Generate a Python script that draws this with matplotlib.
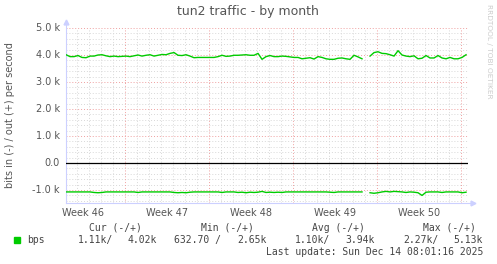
import numpy as np
import pandas as pd
import matplotlib
matplotlib.use("Agg")
import matplotlib.pyplot as plt

# samples every 8 hours, values in k bits/s
times = pd.date_range("2025-11-11 01:30", periods=101, freq="8h")
out_k = [4.01, 3.94, 3.94, 3.98, 3.91, 3.90, 3.96, 3.96, 4.00, 4.01,
         3.97, 3.94, 3.96, 3.94, 3.95, 3.96, 3.94, 3.97, 4.00, 3.96,
         3.99, 4.01, 3.96, 3.99, 4.02, 4.01, 4.06, 4.09, 3.99, 3.98,
         4.01, 3.96, 3.90, 3.91, 3.91, 3.91, 3.91, 3.91, 3.94, 3.99,
         3.95, 3.96, 3.99, 3.99, 4.00, 4.01, 3.99, 3.99, 4.06, 3.84,
         3.94, 3.98, 3.94, 3.94, 3.96, 3.95, 3.93, 3.91, 3.91, 3.86,
         3.88, 3.90, 3.85, 3.94, 3.91, 3.86, 3.84, 3.84, 3.88, 3.89,
         3.86, 3.84, 3.99, 3.93, 3.86, np.nan, 3.96, 4.09, 4.12, 4.06,
         4.05, 4.01, 3.96, 4.16, 4.00, 3.96, 3.94, 3.97, 3.86, 3.88,
         3.98, 3.89, 3.89, 3.98, 3.89, 3.86, 3.91, 3.86, 3.86, 3.91,
         4.01]
in_k = [-1.07, -1.07, -1.07, -1.07, -1.07, -1.07, -1.07, -1.09, -1.10, -1.09,
        -1.07, -1.07, -1.07, -1.07, -1.07, -1.07, -1.07, -1.07, -1.09, -1.07,
        -1.07, -1.07, -1.07, -1.07, -1.07, -1.07, -1.07, -1.09, -1.10, -1.09,
        -1.10, -1.08, -1.07, -1.07, -1.07, -1.07, -1.07, -1.07, -1.07, -1.09,
        -1.07, -1.07, -1.07, -1.09, -1.08, -1.10, -1.08, -1.09, -1.08, -1.05,
        -1.09, -1.08, -1.09, -1.08, -1.09, -1.07, -1.07, -1.07, -1.07, -1.07,
        -1.07, -1.07, -1.07, -1.07, -1.07, -1.07, -1.08, -1.09, -1.07, -1.07,
        -1.07, -1.07, -1.07, -1.07, -1.07, np.nan, -1.10, -1.12, -1.10, -1.07,
        -1.05, -1.07, -1.05, -1.06, -1.07, -1.09, -1.07, -1.08, -1.10, -1.20,
        -1.08, -1.07, -1.07, -1.07, -1.09, -1.07, -1.07, -1.07, -1.07, -1.10,
        -1.08]

week_labels = ["Week 46", "Week 47", "Week 48", "Week 49", "Week 50"]
y_ticks = [-1000, 0, 1000, 2000, 3000, 4000, 5000]
y_labels = ["-1.0 k", "0.0", "1.0 k", "2.0 k", "3.0 k", "4.0 k", "5.0 k"]

legend_head = ["Cur (-/+)", "Min (-/+)", "Avg (-/+)", "Max (-/+)"]
legend_vals = ["1.11k/", "4.02k", "632.70 /", "2.65k", "1.10k/", "3.94k", "2.27k/", "5.13k"]
last_update = "Last update: Sun Dec 14 08:01:16 2025"

W, H = 497, 264
GREEN = "#00CC00"
TEXT = "#555555"
MINOR = "#D8D8D8"
MAJOR = "#EFA0A0"
AXIS = "#CCD0FF"


def px(x, y):
    return x / W, 1 - y / H


def main():
    ref = pd.Timestamp("2025-11-16")  # Sunday, week boundary
    days = (times - ref) / pd.Timedelta(days=1)
    out_bps = np.array(out_k) * 1000
    in_bps = np.array(in_k) * 1000

    fig = plt.figure(figsize=(W / 100, H / 100), dpi=100)
    fig.patch.set_facecolor("white")
    x0, x1, y0, y1 = 66, 468, 28, 203
    ax = fig.add_axes([x0 / W, 1 - y1 / H, (x1 - x0) / W, (y1 - y0) / H])
    ax.set_xlim(-4.94, 28.56)
    ax.set_ylim(-1480, 5000)
    for s in ax.spines.values():
        s.set_visible(False)
    ax.set_xticks([])
    ax.set_yticks([])

    # grid
    for v in range(-1400, 5001, 200):
        if v % 1000 == 0:
            continue
        ax.axhline(v, color=MINOR, lw=0.7, ls=(0, (1, 2)), zorder=1)
    for d in range(-4, 29):
        if d % 7 == 0:
            continue
        ax.axvline(d, color=MINOR, lw=0.7, ls=(0, (1, 2)), zorder=1)
    for v in y_ticks:
        if v != 0:
            ax.axhline(v, color=MAJOR, lw=0.7, ls=(0, (1, 2)), zorder=2)
    for d in range(0, 29, 7):
        ax.axvline(d, color=MAJOR, lw=0.7, ls=(0, (1, 2)), zorder=2)
    ax.axhline(0, color="black", lw=0.9, zorder=3)

    ax.plot(days, out_bps, color=GREEN, lw=1.0, zorder=4)
    ax.plot(days, in_bps, color=GREEN, lw=1.0, zorder=4)

    # axis lines with arrows
    ax.plot([0, 0], [0, 1.03], transform=ax.transAxes, color=AXIS, lw=0.8, clip_on=False)
    ax.plot([0], [1.035], transform=ax.transAxes, marker="^", color=AXIS, ms=3.5, clip_on=False)
    ax.plot([0, 1.01], [0, 0], transform=ax.transAxes, color=AXIS, lw=0.8, clip_on=False)
    ax.plot([1.012], [0], transform=ax.transAxes, marker=">", color=AXIS, ms=3.5, clip_on=False)

    for v, lab in zip(y_ticks, y_labels):
        ax.text(-0.015, v, lab, transform=ax.get_yaxis_transform(), ha="right", va="center",
                fontsize=7, color=TEXT)
    for i, lab in enumerate(week_labels):
        ax.text(-3.5 + 7 * i, -0.055, lab, transform=ax.get_xaxis_transform(), ha="center",
                va="center", fontsize=7, color=TEXT)

    fig.text(*px(248, 12), "tun2 traffic - by month", ha="center", va="center", fontsize=9, color=TEXT)
    fig.text(*px(10, 115), "bits in (-) / out (+) per second", rotation=90, ha="center", va="center",
             fontsize=7, color=TEXT)
    fig.text(*px(489, 4), "RRDTOOL / TOBI OETIKER", rotation=270, ha="center", va="top",
             fontsize=5.3, color="#CCCCCC")

    mono = "DejaVu Sans Mono"
    for x, t in zip([89, 201, 312, 423], legend_head):
        fig.text(*px(x, 228), t, ha="left", va="center", fontsize=7, family=mono, color="#444444")
    fig.patches.append(plt.Rectangle(px(14, 243), 6 / W, 6 / H, transform=fig.transFigure,
                                     color=GREEN, figure=fig))
    fig.text(*px(27, 240), "bps", ha="left", va="center", fontsize=7, family=mono, color="#444444")
    for x, t in zip([78, 128, 174, 237, 295, 345, 403, 453], legend_vals):
        fig.text(*px(x, 240), t, ha="left", va="center", fontsize=7, family=mono, color="#444444")
    fig.text(*px(483, 252), last_update, ha="right", va="center", fontsize=7, family=mono,
             color="#444444")

    fig.savefig("out.png", dpi=100, facecolor="white")
    plt.close(fig)


if __name__ == "__main__":
    main()
